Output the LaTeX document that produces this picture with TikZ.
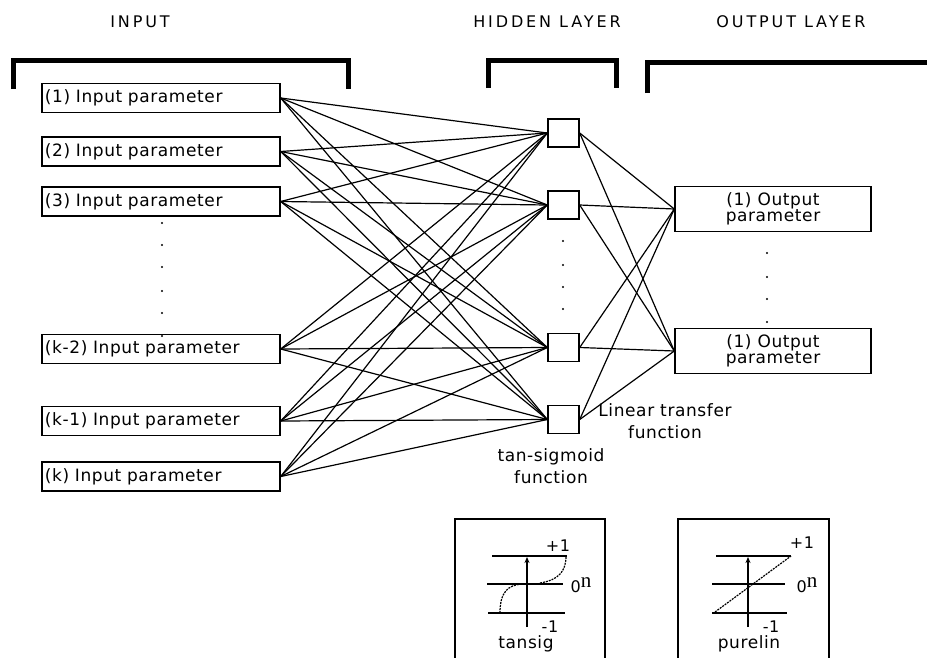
\documentclass[tikz,border=0pt]{standalone}
\usepackage{fontspec}
\setmainfont{DejaVu Sans}
\newfontfamily\lblfont{DejaVu Sans}[LetterSpace=3.5]
\newfontfamily\headfont{DejaVu Sans}[LetterSpace=18]
\newfontfamily\serifn{Liberation Serif}
\usetikzlibrary{arrows.meta}

\tikzset{
  lbl/.style={font=\lblfont\fontsize{17}{19}\selectfont, inner sep=0pt},
  head/.style={font=\headfont\fontsize{16}{19}\selectfont, inner sep=0pt},
  small/.style={font=\lblfont\fontsize{16}{17}\selectfont, inner sep=0pt},
  bracket/.style={line width=5pt, line cap=butt, line join=miter},
  inbox/.style={draw, line width=1.4pt, text width=232pt, align=left,
    inner xsep=3pt, inner ysep=0pt, minimum height=29pt,
    font=\lblfont\fontsize{17}{19}\selectfont},
  hidbox/.style={draw, line width=1.4pt, minimum width=31pt, minimum height=28pt, inner sep=0pt},
  outbox/.style={draw, line width=1.4pt, minimum width=196pt, minimum height=45pt,
    align=center, inner sep=0pt, font=\lblfont\fontsize{17}{16}\selectfont},
  wire/.style={line width=1.2pt},
  dotmark/.style={fill, circle, inner sep=0pt, minimum size=2.2pt},
  fbox/.style={line width=1.4pt},
  level/.style={line width=1.4pt},
  curve/.style={line width=1.2pt, dash pattern=on 2pt off 1pt},
  axis/.style={line width=1.4pt, -{Stealth[length=6pt,width=5pt]}},
}
% zero level mark with a raised serif n
\newcommand{\zerolevel}{0\raisebox{5pt}{\serifn\fontsize{21}{21}\selectfont n}}

\begin{document}
\begin{tikzpicture}[x=1pt, y=-1pt]
\clip (0,0) rectangle (927,657);
\fill[white] (0,0) rectangle (927,657);

% layer headings
\node[head] (tin)  at (140,22) {INPUT};
\node[head] (thid) at (547,22) {HIDDEN LAYER};
\node[head] (tout) at (791,22) {OUTPUT LAYER};

% layer brackets
\draw[bracket] (13,89) -- (13,60) -- (348,60) -- (348,89);
\draw[bracket] (488,88) -- (488,60) -- (616,60) -- (616,88);
\draw[bracket] (647,93) -- (647,62) -- (935,62);

% input parameters
\node[inbox] (i1) at (161,98)    {(1) Input parameter};
\node[inbox] (i2) at (161,151.5) {(2) Input parameter};
\node[inbox] (i3) at (161,201.5) {(3) Input parameter};
\node[inbox] (i4) at (161,349)   {(k-2) Input parameter};
\node[inbox] (i5) at (161,421)   {(k-1) Input parameter};
\node[inbox] (i6) at (161,476.5) {(k) Input parameter};

% hidden neurons
\node[hidbox] (h1) at (563.5,133) {};
\node[hidbox] (h2) at (563.5,205) {};
\node[hidbox] (h3) at (563.5,347.5) {};
\node[hidbox] (h4) at (563.5,419.5) {};

% output parameters
\node[outbox] (o1) at (773,209) {(1) Output\\parameter};
\node[outbox] (o2) at (773,351) {(1) Output\\parameter};

% ellipsis dots
\foreach \y [count=\k] in {223,245,267,291,313,336}
  \node[dotmark] (di\k) at (162,\y) {};
\foreach \y [count=\k] in {241,265,287,309}
  \node[dotmark] (dh\k) at (563,\y) {};
\foreach \y [count=\k] in {253,277,299,322}
  \node[dotmark] (do\k) at (767,\y) {};

% full connections input -> hidden
\foreach \i in {1,...,6}
  \foreach \h in {1,...,4}
    \draw[wire] (i\i.east) -- (h\h.west);
% full connections hidden -> output
\foreach \h in {1,...,4}
  \foreach \o in {1,2}
    \draw[wire] (h\h.east) -- (o\o.west);

% transfer function labels
\node[lbl, align=center] (lt) at (665,421) {Linear transfer\\[3pt]function};
\node[lbl, align=center] (ts) at (551,466) {tan-sigmoid\\[3pt]function};

% tansig plot
\draw[fbox] (455,519) rectangle (605,680);
\draw[level] (492,556) -- (567,556);
\draw[level] (487,584) -- (563,584);
\draw[level] (488,613) -- (565,613);
\draw[axis] (527,627) -- (527,557);
\draw[curve] (500,613) .. controls (500,592) and (508,585) .. (522,584);
\draw[curve] (540,583) .. controls (558,580) and (566,572) .. (566,556);
\node[small] (tp1) at (558,546) {+1};
\node[small] (tz)  at (581,585) {\zerolevel};
\node[small] (tm1) at (550,627) {-1};
\node[lbl] (tname) at (526,644) {tansig};

% purelin plot
\draw[fbox] (678,519) rectangle (829,680);
\draw[level] (716,556) -- (791,556);
\draw[level] (712,584) -- (785,584);
\draw[level] (712,613) -- (787,613);
\draw[axis] (748,627) -- (748,557);
\draw[curve] (715,612) -- (791,556);
\node[small] (pp1) at (802,543) {+1};
\node[small] (pz)  at (807,585) {\zerolevel};
\node[small] (pm1) at (771,627) {-1};
\node[lbl] (pname) at (749,644) {purelin};
\end{tikzpicture}
\end{document}
